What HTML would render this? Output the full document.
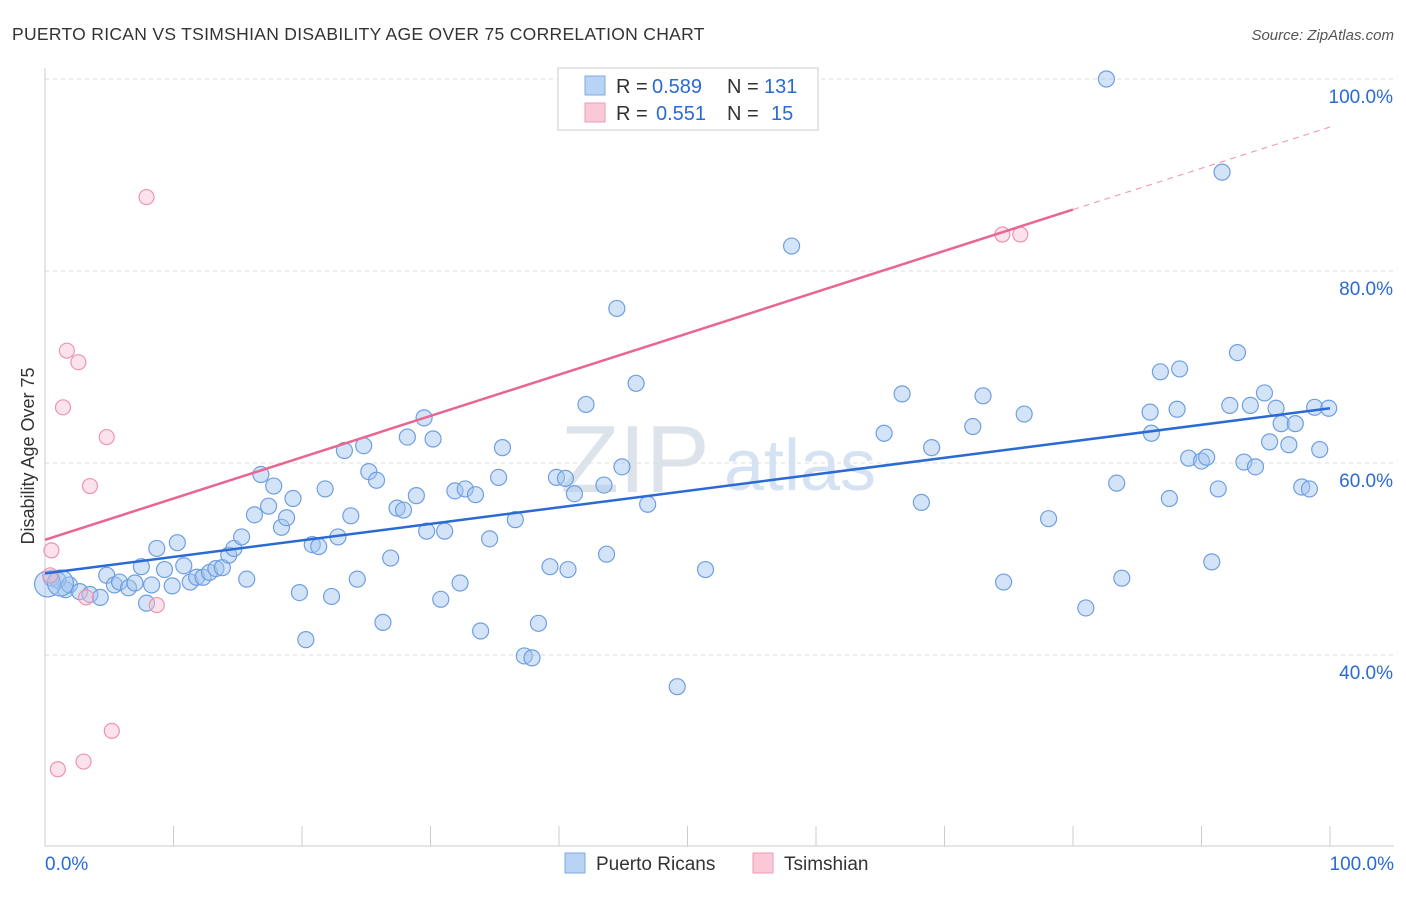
<!DOCTYPE html>
<html><head><meta charset="utf-8"><style>
body{margin:0;background:#fff;font-family:"Liberation Sans",sans-serif;}
svg text{font-family:"Liberation Sans",sans-serif;}
</style></head><body>
<svg id="chart" width="1406" height="892">
<text x="12" y="40" font-size="17.5" fill="#333" letter-spacing="0.3">PUERTO RICAN VS TSIMSHIAN DISABILITY AGE OVER 75 CORRELATION CHART</text>
<text x="1394" y="40" font-size="15" fill="#555" font-style="italic" text-anchor="end">Source: ZipAtlas.com</text>
<text x="34" y="456" font-size="18" fill="#333" text-anchor="middle" transform="rotate(-90 34 456)">Disability Age Over 75</text>
<text x="635" y="492" font-size="96" fill="#dde3ea" font-family="Liberation Serif" text-anchor="middle">ZIP</text>
<text x="800" y="490" font-size="72" fill="#d5e2f3" text-anchor="middle">atlas</text>
<g id="grid"></g><g id="marks"></g>
<g>
<rect x="558" y="68" width="260" height="62" fill="#fff" stroke="#ccc"/>
<rect x="585" y="76" width="20" height="19" fill="#b9d3f5" stroke="#7fa9e3"/>
<rect x="585" y="103" width="20" height="19" fill="#f9c9d7" stroke="#ee9ab2"/>
<text x="616" y="93" font-size="20" fill="#333">R =</text>
<text x="652" y="93" font-size="20" fill="#2a6ad4">0.589</text>
<text x="727" y="93" font-size="20" fill="#333">N =</text>
<text x="764" y="93" font-size="20" fill="#2a6ad4">131</text>
<text x="616" y="120" font-size="20" fill="#333">R =</text>
<text x="656" y="120" font-size="20" fill="#2a6ad4">0.551</text>
<text x="727" y="120" font-size="20" fill="#333">N =</text>
<text x="771" y="120" font-size="20" fill="#2a6ad4">15</text>
</g>
<g>
<rect x="565" y="853" width="20" height="20" fill="#b9d3f5" stroke="#7fa9e3"/>
<text x="596" y="870" font-size="19" fill="#333">Puerto Ricans</text>
<rect x="753" y="853" width="20" height="20" fill="#f9c9d7" stroke="#ee9ab2"/>
<text x="784" y="870" font-size="19" fill="#333">Tsimshian</text>
</g>
</svg>
<script>
const blueX=[0.5,1.0,1.6,1.9,2.7,3.5,4.3,4.8,5.4,5.8,6.5,7.0,7.5,7.9,8.3,8.7,9.3,9.9,10.3,10.8,11.3,11.8,12.3,12.8,13.3,13.8,14.3,14.7,15.3,15.7,16.3,16.8,17.4,17.8,18.4,18.8,19.3,19.8,20.3,20.8,21.3,21.8,22.3,22.8,23.3,23.8,24.3,24.8,25.2,25.8,26.3,26.9,27.4,27.9,28.2,28.9,29.5,29.7,30.2,30.8,31.1,31.9,32.3,32.7,33.5,33.9,34.6,35.3,35.6,36.6,37.3,37.9,38.4,39.3,39.8,40.5,40.7,41.2,42.1,43.5,43.7,44.5,44.9,46.0,46.9,49.2,51.4,58.1,65.3,66.7,68.2,69.0,72.2,73.0,74.6,76.2,78.1,81.0,82.6,83.4,83.8,86.0,86.1,86.8,87.5,88.1,88.3,89.0,90.0,90.4,90.8,91.3,91.6,92.2,92.8,93.3,93.8,94.2,94.9,95.8,95.3,96.2,96.8,97.3,97.8,98.4,98.8,99.2,99.9,0.2,1.2];
const blueY=[48.0,47.8,46.8,47.3,46.6,46.3,46.0,48.3,47.3,47.6,47.0,47.5,49.2,45.4,47.3,51.1,48.9,47.2,51.7,49.3,47.6,48.1,48.1,48.6,49.0,49.1,50.4,51.1,52.3,47.9,54.6,58.8,55.5,57.6,53.3,54.3,56.3,46.5,41.6,51.5,51.3,57.3,46.1,52.3,61.3,54.5,47.9,61.8,59.1,58.2,43.4,50.1,55.3,55.1,62.7,56.6,64.7,52.9,62.5,45.8,52.9,57.1,47.5,57.3,56.7,42.5,52.1,58.5,61.6,54.1,39.9,39.7,43.3,49.2,58.5,58.4,48.9,56.8,66.1,57.7,50.5,76.1,59.6,68.3,55.7,36.7,48.9,82.6,63.1,67.2,55.9,61.6,63.8,67.0,47.6,65.1,54.2,44.9,100.0,57.9,48.0,65.3,63.1,69.5,56.3,65.6,69.8,60.5,60.2,60.6,49.7,57.3,90.3,66.0,71.5,60.1,66.0,59.6,67.3,65.7,62.2,64.1,61.9,64.1,57.5,57.3,65.8,61.4,65.7,47.4,47.5];
const pinkX=[0.5,0.4,1.4,1.7,2.6,3.5,4.8,3.2,8.7,7.9,1.0,3.0,5.2,74.5,75.9];
const pinkY=[50.9,48.3,65.8,71.7,70.5,57.6,62.7,46.0,45.2,87.7,28.1,28.9,32.1,83.8,83.8];
const blueTrend=[48.5,65.7];
const pinkTrend=[52.0,95.0];
const yTicks=[40,60,80,100];
const xTicks=[0,10,20,30,40,50,60,70,80,90,100];
const NS='http://www.w3.org/2000/svg';
const sx=v=>45+v*12.85;
const sy=v=>463-(v-60)*9.6;
function mk(t,a,p){const e=document.createElementNS(NS,t);for(const k in a)e.setAttribute(k,a[k]);p.appendChild(e);return e;}
const grid=document.getElementById('grid'),marks=document.getElementById('marks');
yTicks.forEach(v=>{
 const l=mk('line',{x1:45,x2:1394,y1:sy(v),y2:sy(v),stroke:'#ddd','stroke-dasharray':'4 4'},grid);
 
 
 const t=mk('text',{x:1393,y:sy(v)+24,'font-size':19,fill:'#2a6ad4','text-anchor':'end'},grid);
 t.textContent=v.toFixed(1)+'%';
 
 
});
mk('line',{x1:45,x2:45,y1:68,y2:846,stroke:'#ccc'},grid);
mk('line',{x1:45,x2:1394,y1:846,y2:846,stroke:'#ccc'},grid);
xTicks.forEach(v=>{
 const l=mk('line',{x1:sx(v),x2:sx(v),y1:826,y2:846,stroke:'#ccc'},grid);
 
 
});
[[0,'0.0%','start',45],[100,'100.0%','end',1394]].forEach(d=>{
 const t=mk('text',{x:d[3],y:870,'font-size':19,fill:'#2a6ad4','text-anchor':d[2]},grid);
 t.textContent=d[1];
 
 
});
blueX.forEach((x,i)=>{
 const c=mk('circle',{cx:sx(x),cy:sy(blueY[i]),r:(i>=blueX.length-2)?13:8,fill:'rgba(160,196,240,0.45)',stroke:'#6f9fe0','stroke-width':1.2},marks);
 
 
});
pinkX.forEach((x,i)=>{
 const c=mk('circle',{cx:sx(x),cy:sy(pinkY[i]),r:7.5,fill:'rgba(248,190,208,0.45)',stroke:'#ec94ae','stroke-width':1.2},marks);
 
 
});
const bl=mk('line',{x1:sx(0),y1:sy(blueTrend[0]),x2:sx(100),y2:sy(blueTrend[1]),stroke:'#2a6ad4','stroke-width':2.5},marks);


const pm=v=>pinkTrend[0]+(pinkTrend[1]-pinkTrend[0])*v/100;
const pl=mk('line',{x1:sx(0),y1:sy(pm(0)),x2:sx(80),y2:sy(pm(80)),stroke:'#e8668f','stroke-width':2.5},marks);


const pd=mk('line',{x1:sx(80),y1:sy(pm(80)),x2:sx(100),y2:sy(pm(100)),stroke:'#f0a0b8','stroke-width':1.2,'stroke-dasharray':'6 5'},marks);


</script>
</body></html>
